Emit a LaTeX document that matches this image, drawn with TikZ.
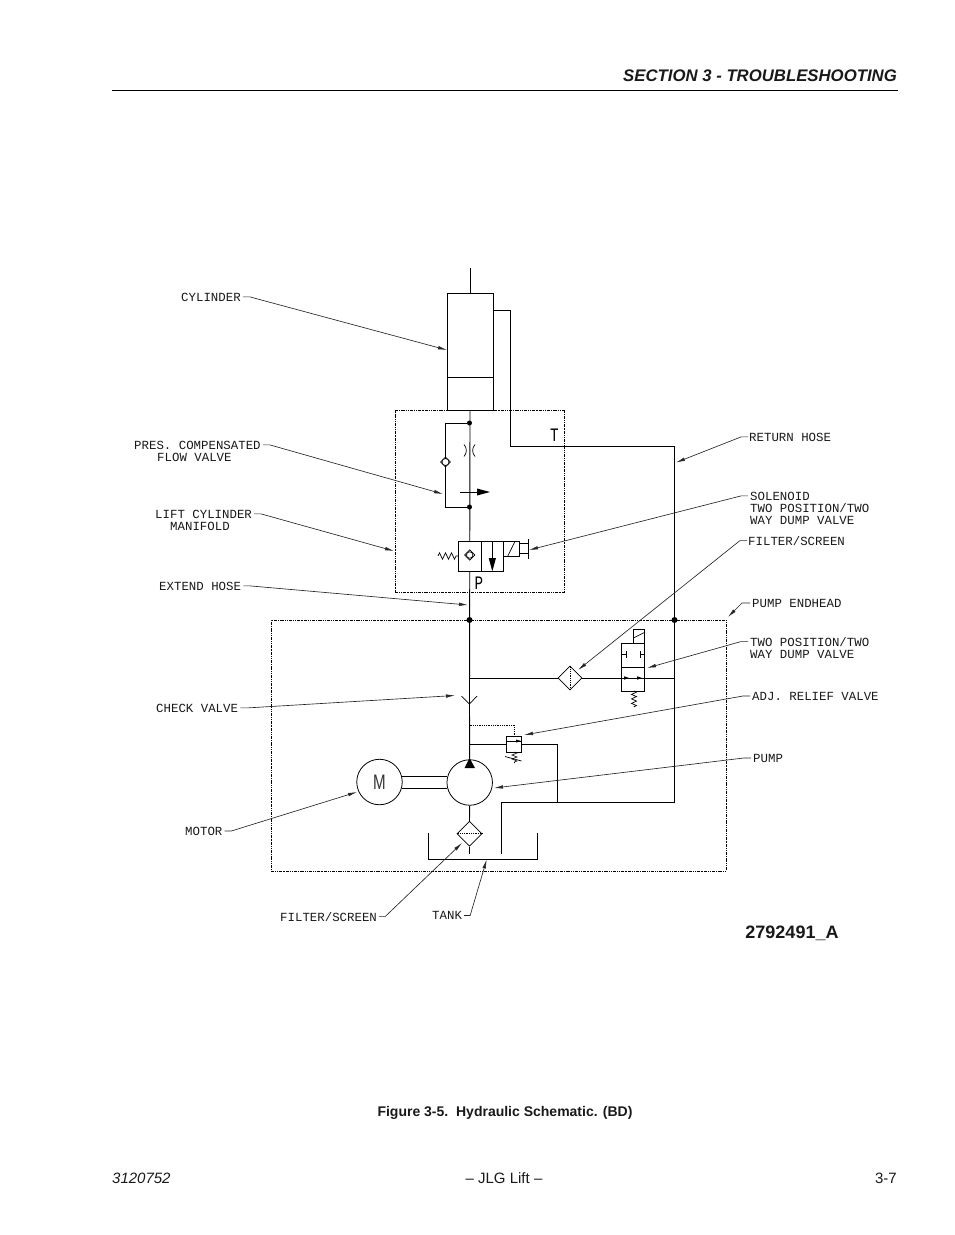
\documentclass[tikz,border=0pt]{standalone}
\usepackage{fontspec}
\usetikzlibrary{arrows.meta,decorations.pathmorphing,calc,shapes.geometric}
\setmainfont{Liberation Sans}
\newfontfamily\cadfam{Liberation Mono}
\tikzset{
  x=1pt,y=-1pt,
  pipe/.style={draw=black,line width=0.9pt,line join=miter},
  thin pipe/.style={draw=black,line width=0.7pt},
  boundary/.style={draw=black,line width=0.8pt,densely dash dot dot},
  pilot/.style={draw=black,line width=0.8pt,densely dotted},
  leader/.style={draw=black!85,line width=0.65pt,-{Latex[length=9pt,width=3.5pt]}},
  lbl/.style={font=\cadfam\fontsize{12.4}{14}\selectfont,inner sep=0pt,anchor=base west,text=black!90},
  port/.style={font=\cadfam\fontsize{19}{22}\selectfont\addfontfeature{FakeStretch=0.75},inner sep=0pt,anchor=base},
  page text/.style={inner sep=0pt,text=black!90},
  box/.style={draw=black,line width=0.9pt,inner sep=0pt,fill=none},
  spot/.style={circle,fill=black,inner sep=0pt,minimum size=6pt},
  small spot/.style={circle,fill=black,inner sep=0pt,minimum size=5pt},
  dia/.style={diamond,draw=black,line width=0.7pt,inner sep=0pt,aspect=1},
  springy/.style={draw=black,line width=0.7pt,decorate,decoration={zigzag,amplitude=3.2pt,segment length=6pt}},
}
\begin{document}
\begin{tikzpicture}
\useasboundingbox (0,0) rectangle (954,1235);
% page furniture
\coordinate (rl) at (112,90);
\coordinate (rr) at (898,90);
\draw[line width=0.8pt] (rl) -- (rr);
\node[page text,anchor=base east,font=\bfseries\itshape\fontsize{16.75}{20}\selectfont] (hdr) at (897,81) {SECTION 3 - TROUBLESHOOTING};
\node[page text,anchor=base,font=\bfseries\fontsize{18}{22}\selectfont] (dwg) at (792,938) {2792491\_A};
\node[page text,anchor=base,font=\bfseries\fontsize{14}{16}\selectfont] (cap) at (505,1116) {Figure 3-5.\ \ Hydraulic Schematic. (BD)};
\node[page text,anchor=base west,font=\itshape\fontsize{15}{17}\selectfont] (fl) at (112,1183) {3120752};
\node[page text,anchor=base,font=\fontsize{15}{17}\selectfont] (fc) at (504,1183) {– JLG Lift –};
\node[page text,anchor=base east,font=\fontsize{15}{17}\selectfont] (fr) at (897,1183) {3-7};

% boundaries
\node[boundary,inner sep=0pt,minimum width=169pt,minimum height=181.5pt] (manifold) at (479.5,501.25) {};
\node[boundary,inner sep=0pt,minimum width=455pt,minimum height=251pt] (endhead) at (498.5,745.5) {};

% cylinder
\node[box,minimum width=46pt,minimum height=117pt] (cyl) at (470,351.5) {};
\draw[pipe] (447,377) -- (493,377);
\coordinate (rodtop) at (470,268);
\draw[pipe] (rodtop) -- (cyl.north);

% pump, motor
\node[circle,draw=black,line width=0.8pt,inner sep=0pt,minimum size=45.5pt] (pump) at (469.7,782.5) {};
\node[circle,draw=black,line width=0.8pt,inner sep=0pt,minimum size=45.5pt] (motor) at (379.5,782) {};
\node[inner sep=0pt,text=black!80,font=\fontsize{21}{24}\selectfont\addfontfeature{FakeStretch=0.72}] (m) at (379.5,782) {M};
\draw[pipe] (401.5,776) -- (447,776);
\draw[pipe] (401.5,788) -- (447,788);
\fill[black] (469.5,758) -- (475,768) -- (464.5,768) -- cycle;

% main line
\coordinate (chk) at (469.5,704);
\node[small spot] (j1) at (469.5,423) {};
\node[small spot] (j2) at (469.5,507) {};
\node[spot] (j3) at (469.5,620) {};
\node[spot] (j4) at (674.5,620) {};
\draw[pipe] (cyl.south) -- (chk);
\draw[thin pipe] (461.5,696) -- (chk) -- (477,696);
\draw[pipe] (chk) -- (pump.north);

% flow valve
\coordinate (fv1) at (445.5,423);
\coordinate (fv2) at (445.5,507);
\draw[pipe] (j1) -- (fv1) -- (fv2) -- (j2);
\node[dia,fill=white,minimum size=10pt] (fvd) at (445.5,462) {};
\node[circle,draw=black,fill=white,line width=0.7pt,inner sep=0pt,minimum size=7pt] (fvc) at (445.5,462) {};
\draw[thin pipe] (464,444.5) to[bend left=42] (464,456.5);
\draw[thin pipe] (475,444.5) to[bend right=42] (475,456.5);
\draw[thin pipe] (460,492) -- (478,492);
\fill[black] (477,488.5) -- (490,492) -- (477,495.5) -- cycle;
\node[port] (T) at (554.5,441) {T};

% return line
\coordinate (ret1) at (493,310);
\coordinate (ret2) at (510.5,446);
\coordinate (ret3) at (674.5,446);
\coordinate (ret4) at (674.5,802);
\coordinate (ret5) at (501.5,802);
\coordinate (ret6) at (501.5,854);
\draw[pipe] (ret1) -| (ret2) -- (ret3) -- (ret4) -- (ret5) -- (ret6);

% dump valve, manifold
\node[box,fill=white,minimum width=45.5pt,minimum height=30pt] (dv) at (481,556.3) {};
\draw[pipe] (481.3,541.3) -- (481.3,571.3);
\draw[pipe] (492.3,541.3) -- (492.3,560);
\fill[black] (488.7,558) -- (496,558) -- (492.3,571.3) -- cycle;
\node[dia,fill=white,minimum size=10.5pt] (dvd) at (469.7,555) {};
\node[circle,draw=black,fill=white,line width=0.7pt,inner sep=0pt,minimum size=6.5pt] (dvc) at (469.7,555) {};
\node[box,minimum width=15.6pt,minimum height=15.4pt] (sol) at (511.5,549) {};
\draw[thin pipe] (507.5,556.7) -- (515,541.3);
\draw[pipe] (sol.east |- 0,543.3) -- (528,543.3);
\draw[pipe] (sol.east |- 0,553.3) -- (528,553.3);
\draw[pipe] (528,539) -- (528,559);
\coordinate (sp1) at (438,556);
\draw[springy] (sp1) -- (dv.west |- sp1);
\node[port] (P) at (479,589) {P};

% upper branch with filter & two-position valve
\node[dia,minimum size=24pt] (flt) at (570,678) {};
\draw[pilot] (flt.north) -- (flt.south);
\draw[pipe] (469.5,678) -- (flt.west);
\draw[pipe] (flt.east) -- (674.5,678);
\node[box,minimum width=22.6pt,minimum height=48pt] (tp) at (633,667) {};
\draw[pipe] (621.7,667) -- (644.3,667);
\node[box,minimum width=11pt,minimum height=14pt] (tps) at (638.8,636) {};
\draw[thin pipe] (633.3,638) -- (644.3,632.5);
\draw[pipe] (621.7,654.5) -- (626.7,654.5);
\draw[pipe] (626.7,651) -- (626.7,658);
\draw[pipe] (644.3,654.5) -- (640.7,654.5);
\draw[pipe] (640.7,651) -- (640.7,658);
\fill[black] (624,676.3) -- (629,678) -- (624,679.7) -- cycle;
\fill[black] (637,676.3) -- (642,678) -- (637,679.7) -- cycle;
\draw[springy,decoration={segment length=4.5pt,amplitude=2.5pt}] (634,691) -- (634,707);

% relief valve
\node[box,fill=white,minimum width=15pt,minimum height=16pt] (rv) at (514.2,744) {};
\draw[thin pipe] (506.7,741) -- (521.7,741);
\fill[black] (516,739.5) -- (521,741) -- (516,742.5) -- cycle;
\draw[pipe] (469.5,744) -- (rv.west);
\draw[pipe] (rv.east) -| (557.5,802);
\draw[pilot] (469.5,725) -| (rv.north);
\draw[springy,line width=0.6pt,decoration={segment length=4pt,amplitude=2.5pt}] (514.5,752) -- (514.5,763);
\draw[thin pipe] (505,756.5) -- (521.5,761);

% filter and tank
\node[dia,minimum size=25pt] (sf) at (469.5,833.7) {};
\draw[pipe] (pump.south) -- (sf.north);
\draw[thin pipe] (sf.south) -- (469.5,854);
\draw[pilot] (sf.west) -- (sf.east);
\coordinate (tk1) at (428.5,833);
\coordinate (tk2) at (428.5,859.5);
\coordinate (tk3) at (537.5,859.5);
\coordinate (tk4) at (537.5,833);
\draw[pipe] (tk1) -- (tk2) -- (tk3) -- (tk4);

% labels
\node[lbl] (lcyl) at (181,301) {CYLINDER};
\node[lbl] (lpres) at (134,449) {PRES. COMPENSATED};
\node[lbl] (lflow) at (157,461) {FLOW VALVE};
\node[lbl] (llift) at (155,518) {LIFT CYLINDER};
\node[lbl] (lman) at (170,530) {MANIFOLD};
\node[lbl] (lext) at (159,590) {EXTEND HOSE};
\node[lbl] (lchk) at (156,712) {CHECK VALVE};
\node[lbl] (lmot) at (185,835) {MOTOR};
\node[lbl] (lfs) at (280,921) {FILTER/SCREEN};
\node[lbl] (ltank) at (432,919.5) {TANK};
\node[lbl] (lret) at (749,441) {RETURN HOSE};
\node[lbl] (lsol) at (750,500) {SOLENOID};
\node[lbl] (ltw) at (750,512) {TWO POSITION/TWO};
\node[lbl] (lway) at (750,524) {WAY DUMP VALVE};
\node[lbl] (lfs2) at (748,545) {FILTER/SCREEN};
\node[lbl] (lpe) at (752,607) {PUMP ENDHEAD};
\node[lbl] (ltp) at (750,646) {TWO POSITION/TWO};
\node[lbl] (lwd) at (750,658) {WAY DUMP VALVE};
\node[lbl] (ladj) at (752,700) {ADJ. RELIEF VALVE};
\node[lbl] (lpump) at (753,762) {PUMP};

% leader targets
\coordinate (tcyl) at (447,350);
\coordinate (tpres) at (443,494);
\coordinate (tlift) at (394,551);
\coordinate (text) at (468,605);
\coordinate (tchk) at (455,695.5);
\coordinate (tmot) at (357,792);
\coordinate (tfs) at (462,843);
\coordinate (ttank) at (486.7,859.5);
\coordinate (tret) at (676,462.5);
\coordinate (tsol) at (529,550);
\coordinate (tfs2) at (578,670);
\coordinate (tpe) at (728,617);
\coordinate (ttp) at (647,668);
\coordinate (tadj) at (524,735);
\coordinate (tpump) at (494,788);

\draw[leader] ($(lcyl.east)+(2,0)$) -- ++(7,0) -- (tcyl);
\draw[leader] ($(lpres.east)+(2,0)$) -- ++(7,0) -- (tpres);
\draw[leader] ($(llift.east)+(2,0)$) -- ++(7,0) -- (tlift);
\draw[leader] ($(lext.east)+(2,0)$) -- ++(7,0) -- (text);
\draw[leader] ($(lchk.east)+(2,0)$) -- ++(7,0) -- (tchk);
\draw[leader] ($(lmot.east)+(2,0)$) -- ++(7,0) -- (tmot);
\draw[leader] ($(lfs.east)+(2,0)$) -- ++(6,0) -- (tfs);
\draw[leader] ($(ltank.east)+(2,0)$) -- ++(6,0) -- (ttank);
\draw[leader] ($(lret.west)+(-1,0)$) -- ++(-7,0) -- (tret);
\draw[leader] ($(lsol.west)+(-2,0)$) -- ++(-7,0) -- (tsol);
\draw[leader] ($(lfs2.west)+(-1,0)$) -- ++(-7,0) -- (tfs2);
\draw[leader] ($(lpe.west)+(-2,0)$) -- ++(-8,0) -- (tpe);
\draw[leader] ($(ltp.west)+(-2,0)$) -- ++(-7,0) -- (ttp);
\draw[leader] ($(ladj.west)+(-2,0)$) -- ++(-7,0) -- (tadj);
\draw[leader] ($(lpump.west)+(-2,0)$) -- ++(-7,0) -- (tpump);
\end{tikzpicture}
\end{document}
